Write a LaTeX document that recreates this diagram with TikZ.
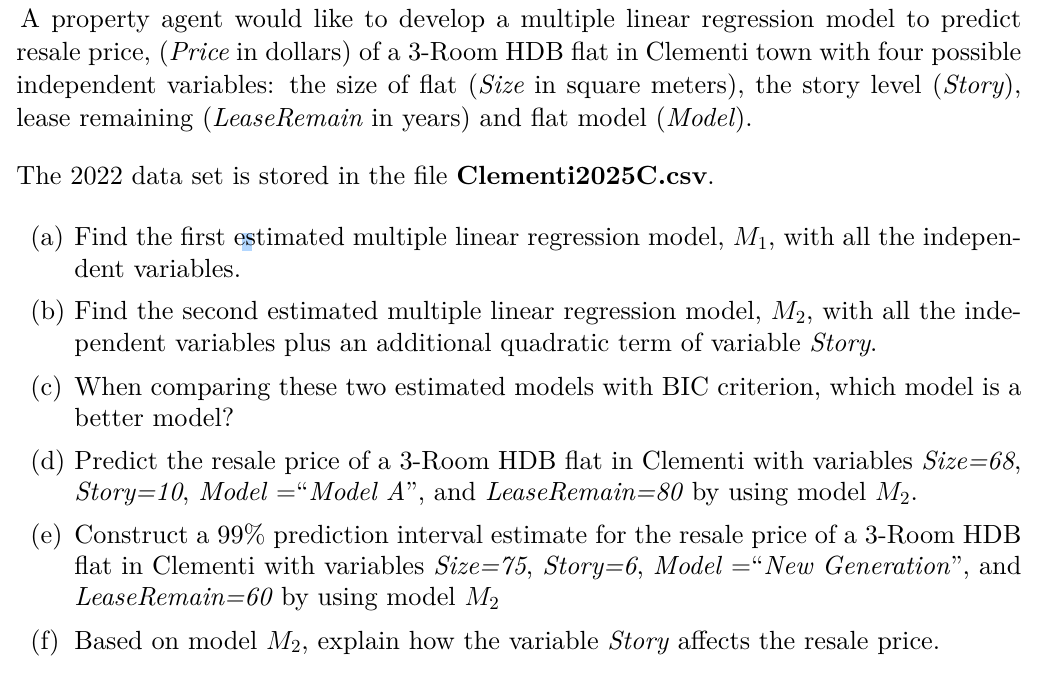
\RequirePackage{fix-cm}
\documentclass[tikz,border=0pt]{standalone}
\usepackage{fontspec}
\usepackage{amsmath}
\setmainfont{lmroman10-regular.otf}[ItalicFont=lmroman10-italic.otf,
  BoldFont=lmroman10-bold.otf, BoldItalicFont=lmroman10-bolditalic.otf]
\definecolor{selblue}{HTML}{B3D7FF}

\begin{document}
\begin{tikzpicture}[x=0.5pt, y=-0.5pt, inner sep=0pt,
    para/.style={anchor=base west, text width=502.5pt, align=justify,
      font=\fontsize{13.14pt}{16.35pt}\selectfont},
    part/.style={anchor=base west, text width=473.5pt, align=justify,
      font=\fontsize{13.14pt}{15.6pt}\selectfont},
    tag/.style={anchor=base west, font=\fontsize{13.14pt}{15.6pt}\selectfont}]
        \useasboundingbox[fill=white] (0,0) rectangle (1046,690);
        \fill[selblue] (242,233) rectangle (252,251);
        \node[para] (intro) at (16,28) {\hspace*{2pt}A property agent would like to develop a multiple linear regression model to predict\linebreak
          resale price, (\textit{Price} in dollars) of a 3-Room HDB flat in Clementi town with four possible\linebreak
          independent variables: the size of flat (\textit{Size} in square meters), the story level (\textit{Story}),\linebreak
          lease remaining (\textit{LeaseRemain} in years) and flat model (\textit{Model}).};
        \node[para] (datafile) at (16,185) {The 2022 data set is stored in the file \textbf{Clementi2025C.csv}.};
        \node[tag] (la) at (30,246) {(a)};
        \node[part] (pa) at (74,246) {Find the first estimated multiple linear regression model, $M_1$, with all the indepen-\linebreak
          dent variables.};
        \node[tag] (lb) at (30,320) {(b)};
        \node[part] (pb) at (74,320) {Find the second estimated multiple linear regression model, $M_2$, with all the inde-\linebreak
          pendent variables plus an additional quadratic term of variable \textit{Story}.};
        \node[tag] (lc) at (30,395) {(c)};
        \node[part] (pc) at (74,395) {When comparing these two estimated models with BIC criterion, which model is a\linebreak
          better model?};
        \node[tag] (ld) at (30,469) {(d)};
        \node[part] (pd) at (74,469) {Predict the resale price of a 3-Room HDB flat in Clementi with variables \textit{Size=68},\linebreak
          \textit{Story=10}, \textit{Model} $=$``\textit{Model A}'', and \textit{LeaseRemain=80} by using model $M_2$.};
        \node[tag] (le) at (30,543) {(e)};
        \node[part] (pe) at (74,543) {Construct a 99\% prediction interval estimate for the resale price of a 3-Room HDB\linebreak
          flat in Clementi with variables \textit{Size=75}, \textit{Story=6}, \textit{Model} $=$``\textit{New Generation}'', and\linebreak
          \textit{LeaseRemain=60} by using model $M_2$};
        \node[tag] (lf) at (30,649) {(f)};
        \node[part] (pf) at (74,649) {Based on model $M_2$, explain how the variable \textit{Story} affects the resale price.};
    \end{tikzpicture}
\end{document}
